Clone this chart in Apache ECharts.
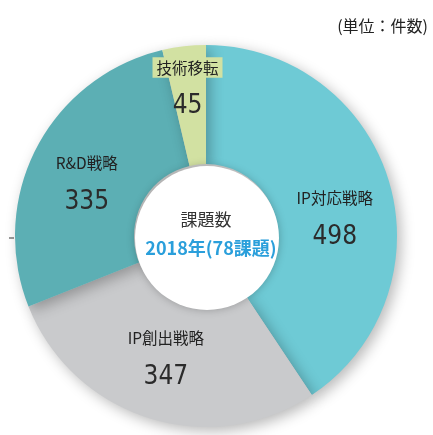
<!DOCTYPE html>
<html><head><meta charset="utf-8">
<script src="https://cdn.jsdelivr.net/npm/echarts@6/dist/echarts.min.js"></script>
<style>html,body{margin:0;padding:0;background:#fff;}#c{width:433px;height:435px;}</style>
</head><body><div id="c"></div>
<script>
const categories = ['IP対応戦略', 'IP創出戦略', 'R&D戦略', '技術移転'];
const values = [498, 347, 335, 45];
const colors = ['#6ECAD5', '#C9CACC', '#5CAFB4', '#D2E1A2'];
const labelShift = [[0, 25], [0, -2], [0, 13], [-3, -11]];
const centerTitle = '課題数';
const centerSub = '2018年(78課題)';
const unitNote = '(単位：件数)';

const cx = 206, cy = 236;
const chart = echarts.init(document.getElementById('c'));
const data = categories.map((n, i) => {
  const d = { name: n, value: values[i], itemStyle: { color: colors[i] } };
  if (i === 3) {
    d.label = { rich: { n: { backgroundColor: colors[3], padding: [3, 4, 2, 4] } } };
  }
  return d;
});
chart.setOption({
  animation: false,
  backgroundColor: '#fff',
  graphic: [
    { type: 'text', right: 5, top: 18, style: { text: unitNote, font: '16px "Noto Sans CJK JP"', fill: '#222' } },
    { type: 'line', shape: { x1: 9, y1: 238, x2: 14, y2: 238 }, style: { stroke: '#9a9a9a', lineWidth: 2 } },
    { type: 'circle', z: 10, shape: { cx: cx + 1, cy: cy + 2, r: 72 }, style: { fill: '#fff', shadowBlur: 8, shadowColor: 'rgba(0,0,0,0.25)' } },
    { type: 'text', z: 11, x: cx, y: cy - 16, style: { text: centerTitle, font: '17px "Noto Sans CJK JP"', fill: '#333', align: 'center', verticalAlign: 'middle' } },
    { type: 'text', z: 11, x: cx + 5, y: cy + 12, style: { text: centerSub, font: 'bold 18px "Noto Sans CJK JP"', fill: '#2A9FDB', align: 'center', verticalAlign: 'middle' } }
  ],
  series: [{
    type: 'pie',
    center: [cx, cy],
    radius: [72, 191],
    startAngle: 90,
    clockwise: true,
    data: data,
    itemStyle: { shadowBlur: 14, shadowOffsetX: 4, shadowOffsetY: 4, shadowColor: 'rgba(0,0,0,0.28)' },
    label: {
      show: true,
      position: 'inside',
      formatter: '{n|{b}}\n{v|{c}}',
      rich: {
        n: { fontFamily: '"Noto Sans CJK JP"', fontSize: 15.5, color: '#222', lineHeight: 30 },
        v: { fontFamily: '"DejaVu Sans Condensed", "Liberation Sans Narrow", sans-serif', fontSize: 26, color: '#2b2b2b', lineHeight: 48 }
      }
    },
    labelLayout: function (p) { return { dx: labelShift[p.dataIndex][0], dy: labelShift[p.dataIndex][1] }; },
    emphasis: { disabled: true }
  }]
});
</script></body></html>
